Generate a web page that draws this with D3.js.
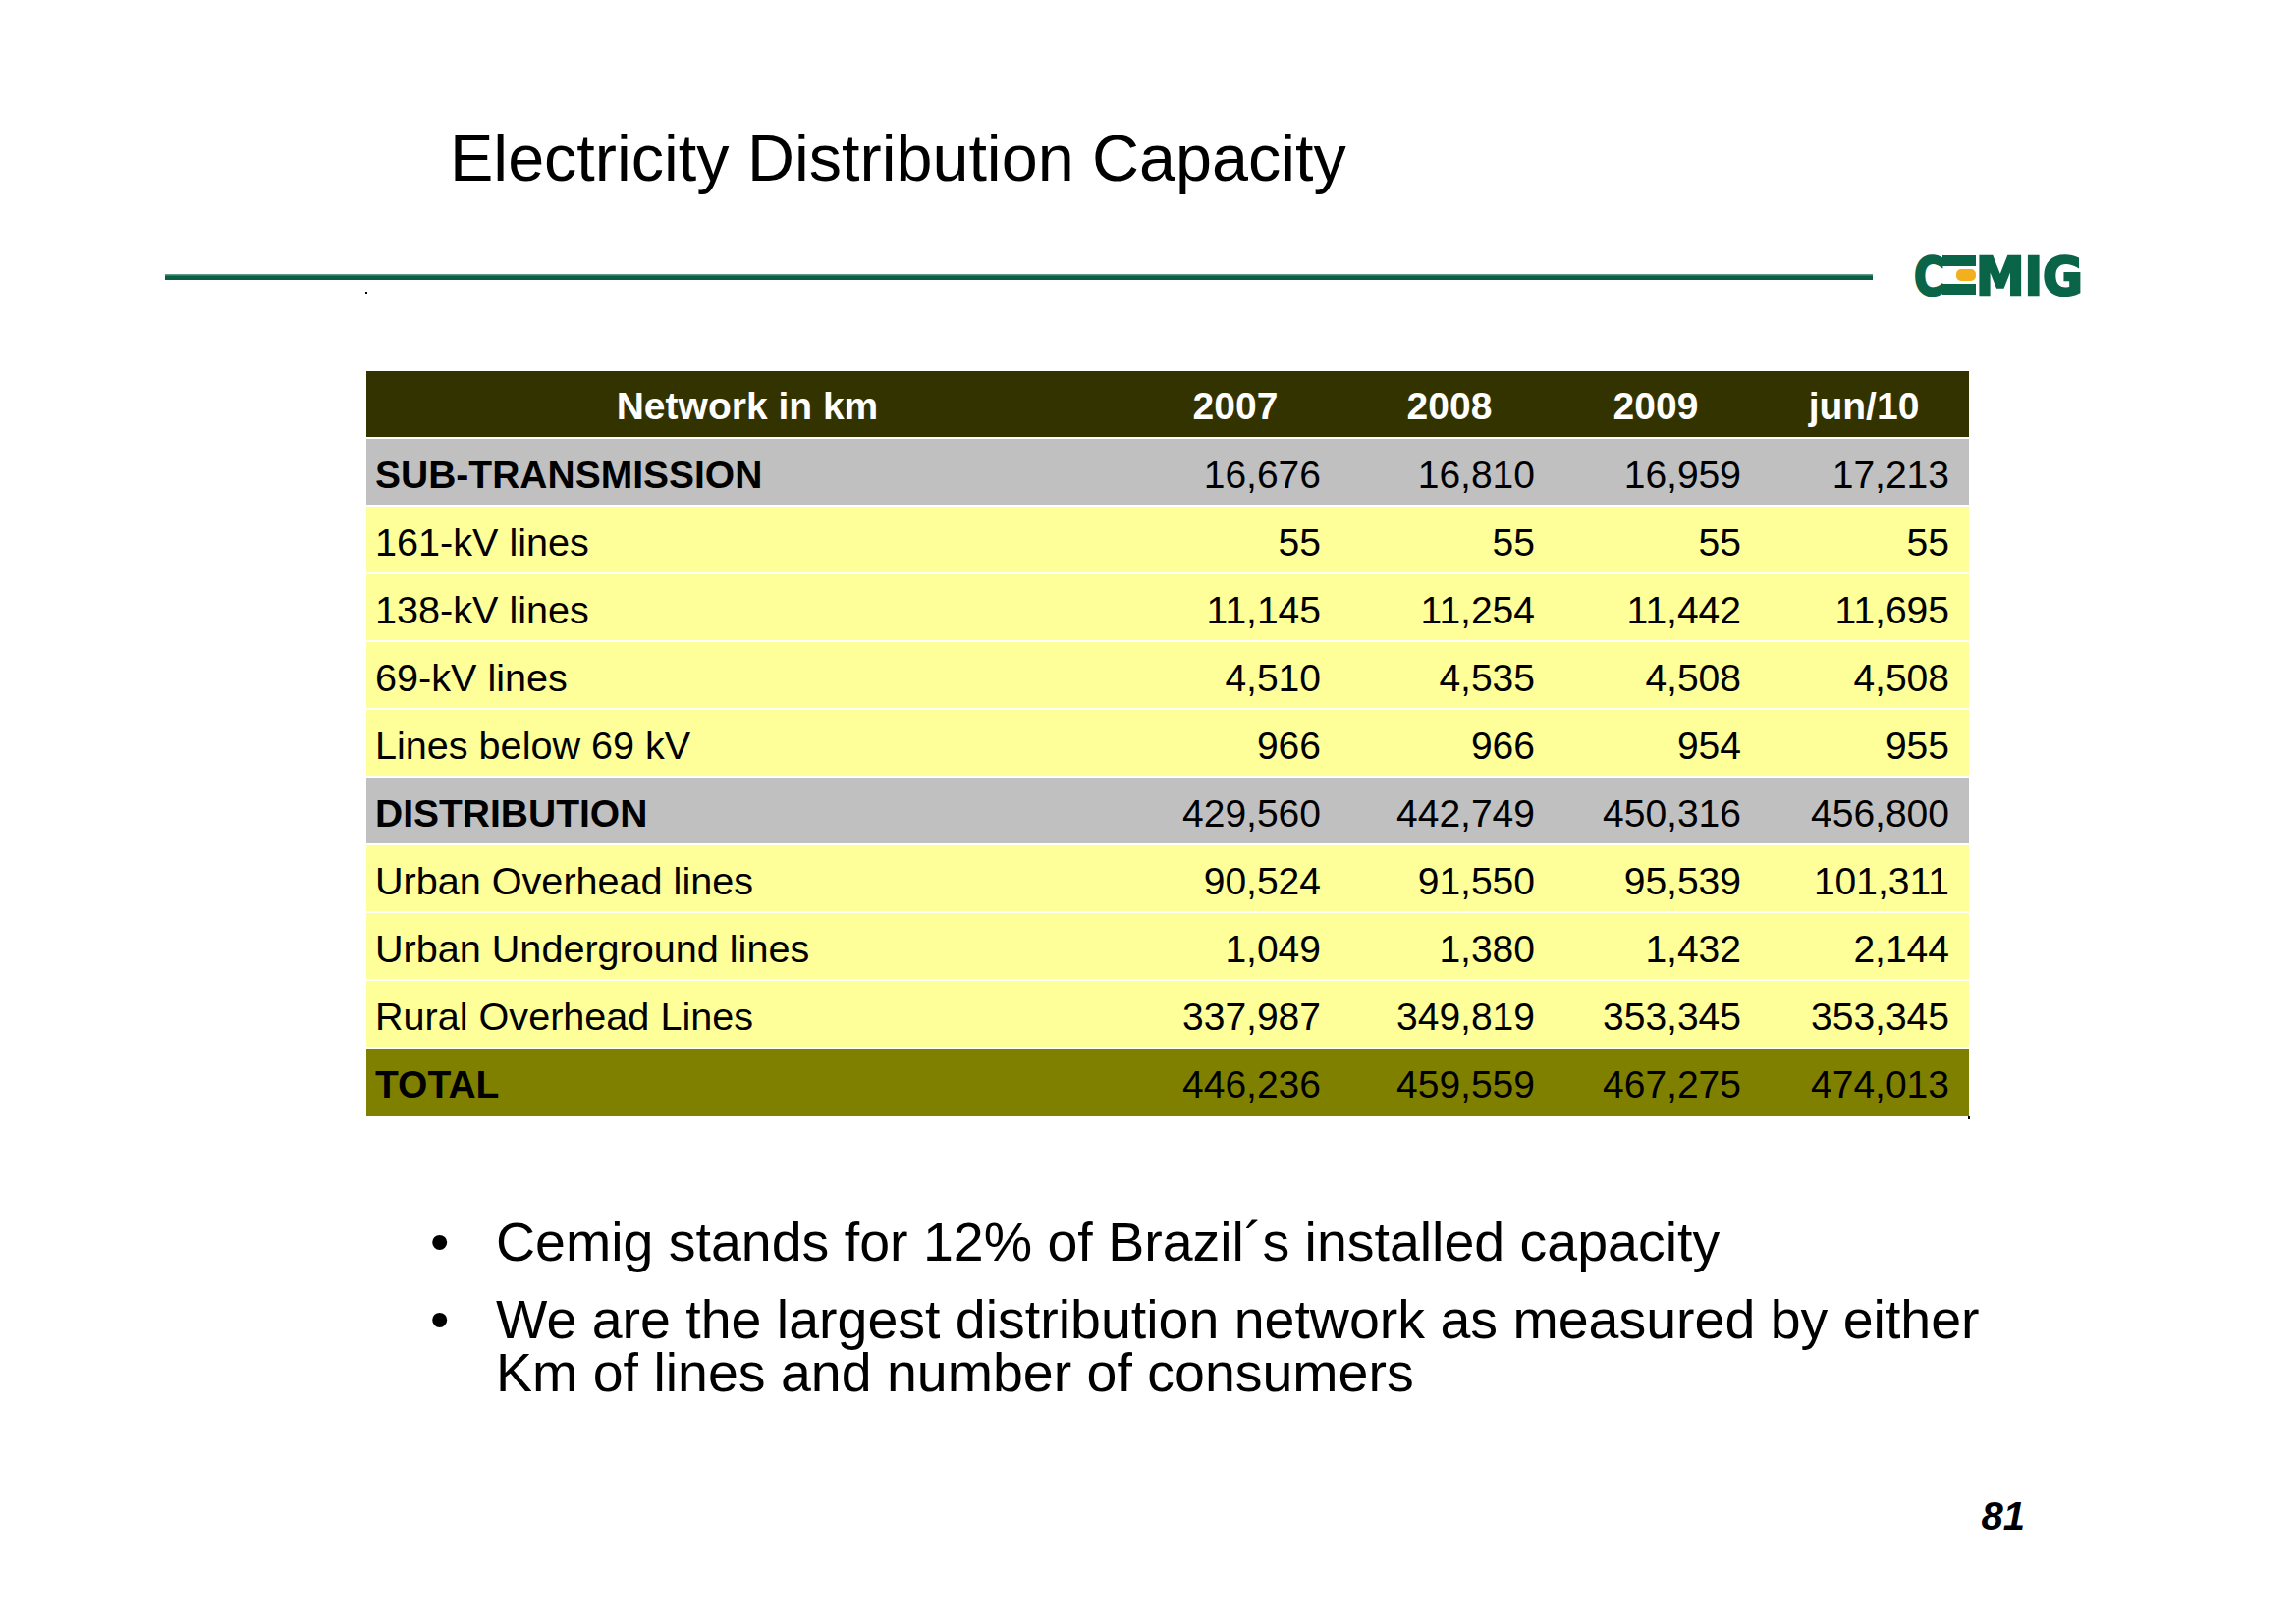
<!DOCTYPE html>
<html>
<head>
<meta charset="utf-8">
<script src="https://cdn.jsdelivr.net/npm/d3@7"></script>
<style>
  html, body { margin: 0; padding: 0; background: #ffffff; }
  svg { display: block; }
</style>
</head>
<body>
<svg id="chart" width="2338" height="1652"></svg>
<script>
// ---------- DATA ----------
const title = "Electricity Distribution Capacity";
const headerLabel = "Network in km";
const columns = ["2007", "2008", "2009", "jun/10"];
const rowLabels = [
  "SUB-TRANSMISSION", "161-kV lines", "138-kV lines", "69-kV lines", "Lines below 69 kV",
  "DISTRIBUTION", "Urban Overhead lines", "Urban Underground lines", "Rural Overhead Lines", "TOTAL"
];
const rowKinds = ["group", "item", "item", "item", "item", "group", "item", "item", "item", "total"];
const values2007 = [16676, 55, 11145, 4510, 966, 429560, 90524, 1049, 337987, 446236];
const values2008 = [16810, 55, 11254, 4535, 966, 442749, 91550, 1380, 349819, 459559];
const values2009 = [16959, 55, 11442, 4508, 954, 450316, 95539, 1432, 353345, 467275];
const valuesJun10 = [17213, 55, 11695, 4508, 955, 456800, 101311, 2144, 353345, 474013];
const bullets = [
  ["Cemig stands for 12% of Brazil´s installed capacity"],
  ["We are the largest distribution network as measured by either", "Km of lines and number of consumers"]
];
const pageNumber = "81";

// ---------- LAYOUT ----------
const svg = d3.select("#chart");
const FONT = "'Liberation Sans', Arial, Helvetica, sans-serif";
const seriesByCol = { "2007": values2007, "2008": values2008, "2009": values2009, "jun/10": valuesJun10 };
const fmt = d3.format(",");

const fill = { header: "#333300", group: "#c0c0c0", item: "#ffff99", total: "#808000" };

// Title
svg.append("text")
  .attr("x", 458).attr("y", 184)
  .attr("font-family", FONT).attr("font-size", 66.5)
  .attr("fill", "#000").text(title);

// green rule
svg.append("rect").attr("x", 168).attr("y", 279).attr("width", 1739).attr("height", 6).attr("fill", "#0b5e46");
svg.append("rect").attr("x", 168).attr("y", 279).attr("width", 1739).attr("height", 1.5).attr("fill", "#5f9a86");
svg.append("rect").attr("x", 372).attr("y", 297).attr("width", 2).attr("height", 2).attr("fill", "#000");

// Logo
const logo = svg.append("g").attr("transform", "translate(1948,259)");
const green = "#0a6447";
logo.append("text").attr("x", 1).attr("y", 41)
  .attr("font-family", "'DejaVu Sans', sans-serif").attr("font-weight", 900)
  .attr("font-size", 54).attr("textLength", 31).attr("lengthAdjust", "spacingAndGlyphs")
  .attr("stroke", green).attr("stroke-width", 2.5)
  .attr("fill", green).text("C");
logo.append("rect").attr("x", 30).attr("y", 1).attr("width", 34).attr("height", 11).attr("fill", green);
logo.append("rect").attr("x", 30).attr("y", 30).attr("width", 34).attr("height", 11).attr("fill", green);
logo.append("rect").attr("x", 44).attr("y", 15).attr("width", 20).attr("height", 12).attr("rx", 5).attr("fill", "#f2b01e");
logo.append("text").attr("x", 64).attr("y", 41)
  .attr("font-family", "'DejaVu Sans', sans-serif").attr("font-weight", 900)
  .attr("font-size", 54).attr("textLength", 109).attr("lengthAdjust", "spacingAndGlyphs")
  .attr("stroke", green).attr("stroke-width", 2.5)
  .attr("fill", green).text("MIG");

// Table scales
const tableLeft = 373, tableRight = 2005;
const y = d3.scaleBand()
  .domain(["__header__"].concat(rowLabels))
  .range([378, 1137])
  .paddingInner(0);
const xRight = d3.scaleOrdinal().domain(columns).range([1345, 1563, 1773, 1985]);
const rowGap = 2;
const FS = 39;
const capOff = FS * 0.716 / 2;

// header row
svg.append("rect")
  .attr("x", tableLeft).attr("y", y("__header__"))
  .attr("width", tableRight - tableLeft).attr("height", y.bandwidth() - rowGap)
  .attr("fill", fill.header);
const hy = y("__header__") + (y.bandwidth() - rowGap) / 2 + capOff + 2;
svg.append("text").attr("x", 761).attr("y", hy).attr("text-anchor", "middle")
  .attr("font-family", FONT).attr("font-weight", "bold").attr("font-size", FS)
  .attr("fill", "#fff").text(headerLabel);
svg.selectAll("text.colhead").data(columns).join("text")
  .attr("class", "colhead")
  .attr("x", d => xRight(d) - 87).attr("y", hy).attr("text-anchor", "middle")
  .attr("font-family", FONT).attr("font-weight", "bold").attr("font-size", FS)
  .attr("fill", "#fff").text(d => d);

// body rows
const rows = rowLabels.map((label, i) => ({ label, kind: rowKinds[i], i }));
const rowG = svg.selectAll("g.row").data(rows).join("g")
  .attr("class", "row")
  .attr("transform", d => `translate(0,${y(d.label)})`);
rowG.append("rect")
  .attr("x", tableLeft).attr("y", 0)
  .attr("width", tableRight - tableLeft)
  .attr("height", d => y.bandwidth() - (d.kind === "total" ? 0 : rowGap))
  .attr("fill", d => fill[d.kind]);
const ty = (y.bandwidth() - rowGap) / 2 + capOff + 3;
rowG.append("text")
  .attr("x", 382).attr("y", ty)
  .attr("font-family", FONT)
  .attr("font-size", d => d.kind === "item" ? 39.6 : FS)
  .attr("font-weight", d => d.kind === "item" ? "normal" : "bold")
  .attr("fill", "#000").text(d => d.label);
columns.forEach(col => {
  rowG.append("text")
    .attr("x", xRight(col)).attr("y", ty).attr("text-anchor", "end")
    .attr("font-family", FONT).attr("font-size", FS)
    .attr("fill", "#000").text(d => fmt(seriesByCol[col][d.i]));
});
svg.append("rect").attr("x", 2004).attr("y", 1137).attr("width", 2).attr("height", 3).attr("fill", "#000");

// bullets
const BFS = 55.5;
const bulletTops = [1284, 1363];
bullets.forEach((lines, bi) => {
  svg.append("text").attr("x", 438).attr("y", bulletTops[bi])
    .attr("font-family", FONT).attr("font-size", BFS).attr("fill", "#000").text("•");
  lines.forEach((ln, li) => {
    svg.append("text").attr("x", 505).attr("y", bulletTops[bi] + li * 54)
      .attr("font-family", FONT).attr("font-size", BFS).attr("fill", "#000").text(ln);
  });
});

// page number
svg.append("text").attr("x", 2062).attr("y", 1558).attr("text-anchor", "end")
  .attr("font-family", FONT).attr("font-weight", "bold").attr("font-style", "italic")
  .attr("font-size", 40).attr("fill", "#000").text(pageNumber);
</script>
</body>
</html>
